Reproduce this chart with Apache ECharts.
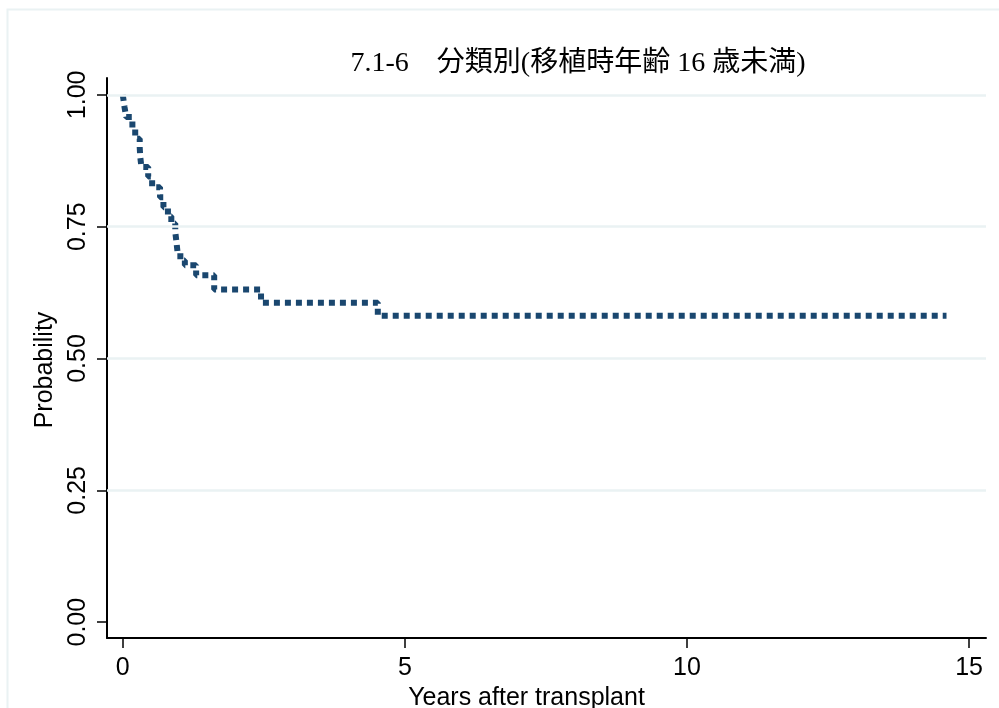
<!DOCTYPE html>
<html>
<head>
<meta charset="utf-8">
<script src="https://cdn.jsdelivr.net/npm/echarts@6/dist/echarts.min.js"></script>
<style>
html,body{margin:0;padding:0;background:#fff;}
#chart{width:999px;height:708px;}
</style>
</head>
<body>
<div id="chart"></div>
<script>
// Kaplan-Meier step points: time (years) of each step and probability after the step
const times = [0, 0.03, 0.06, 0.17, 0.22, 0.30, 0.31, 0.33, 0.45, 0.52, 0.66, 0.72, 0.80, 0.86, 0.93, 0.95, 0.97, 1.02, 1.10, 1.30, 1.62, 2.45, 4.52, 14.6];
const survival = [1.0, 0.977, 0.958, 0.938, 0.917, 0.900, 0.882, 0.863, 0.845, 0.825, 0.806, 0.787, 0.770, 0.756, 0.740, 0.722, 0.702, 0.686, 0.677, 0.658, 0.631, 0.606, 0.581, 0.581];
const xTicks = [0, 5, 10, 15];
const yTicks = [0, 0.25, 0.5, 0.75, 1.0];
const gridYs = [0.25, 0.5, 0.75, 1.0];
const titleText = '7.1-6\u3000分類別(移植時年齢 16 歳未満)';

const chart = echarts.init(document.getElementById('chart'), null, {renderer: 'canvas'});
const font = '"Liberation Sans", Arial, sans-serif';
const option = {
  animation: false,
  backgroundColor: '#ffffff',
  graphic: [{
    type: 'rect',
    shape: {x: 7.5, y: 9.5, width: 1000, height: 720},
    style: {fill: 'none', stroke: '#eaf2f3', lineWidth: 2},
    silent: true, z: 0
  }],
  title: {
    text: titleText,
    left: 573, top: 45,
    textAlign: 'center',
    textStyle: {fontFamily: '"Liberation Serif", "Noto Sans CJK JP", serif', fontSize: 28, fontWeight: 'normal', color: '#000'}
  },
  grid: {left: 107, right: 13, top: 78, bottom: 70, containLabel: false, outerBoundsMode: 'none'},
  xAxis: {
    type: 'value', min: -0.28, max: 15.3,
    name: 'Years after transplant', nameLocation: 'middle', nameGap: 42,
    nameTextStyle: {fontFamily: font, fontSize: 25, color: '#000', padding: [0, 40, 0, 0]},
    axisLine: {show: true, onZero: false, lineStyle: {color: '#000', width: 2}},
    axisTick: {show: true, customValues: xTicks, length: 10, lineStyle: {color: '#000', width: 1.5}},
    axisLabel: {customValues: xTicks, fontFamily: font, fontSize: 25, color: '#000', margin: 18},
    splitLine: {show: false}
  },
  yAxis: {
    type: 'value', min: -0.03, max: 1.032,
    name: 'Probability', nameLocation: 'middle', nameGap: 34, nameRotate: 90,
    nameTextStyle: {fontFamily: font, fontSize: 25, color: '#000', padding: [0, 24, 0, 0]},
    axisLine: {show: true, onZero: false, lineStyle: {color: '#000', width: 2}},
    axisTick: {show: true, customValues: yTicks, length: 10, lineStyle: {color: '#000', width: 1.5}},
    axisLabel: {customValues: yTicks, rotate: 90, fontFamily: font, fontSize: 25, color: '#000', margin: 16,
      formatter: v => v.toFixed(2)},
    splitLine: {show: false}
  },
  series: [
    {
      type: 'line', data: [], z: 1, silent: true,
      markLine: {
        silent: true, symbol: 'none', animation: false,
        label: {show: false},
        lineStyle: {color: '#eaf2f3', width: 2.5, type: 'solid'},
        data: gridYs.map(v => ({yAxis: v}))
      }
    },
    {
      type: 'line', step: 'end', z: 3,
      data: times.map((t, i) => [t, survival[i]]),
      showSymbol: false,
      lineStyle: {color: '#1a476f', width: 6, type: [6, 5], cap: 'butt'}
    }
  ]
};
chart.setOption(option);
</script>
</body>
</html>
